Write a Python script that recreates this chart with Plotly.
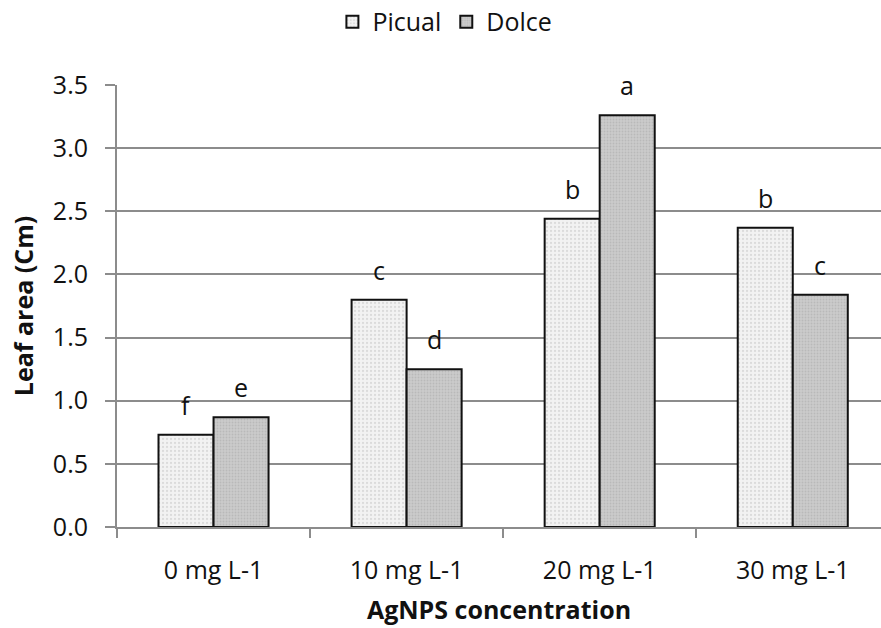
import plotly.graph_objects as go

categories = ["0 mg L-1", "10 mg L-1", "20 mg L-1", "30 mg L-1"]
picual = [0.73, 1.80, 2.44, 2.37]
dolce = [0.87, 1.25, 3.26, 1.84]
picual_letters = ["f", "c", "b", "b"]
dolce_letters = ["e", "d", "a", "c"]

FONT = "Open Sans"
GRID = "#8c8c8c"

fig = go.Figure()
fig.add_trace(go.Bar(
    name="Picual", x=categories, y=picual,
    marker=dict(color="#eeeeee", line=dict(color="#111111", width=2),
                pattern=dict(shape=".", fgcolor="#c4c4c4", bgcolor="#f2f2f2", size=4, solidity=0.25)),
))
fig.add_trace(go.Bar(
    name="Dolce", x=categories, y=dolce,
    marker=dict(color="#c6c6c6", line=dict(color="#111111", width=2),
                pattern=dict(shape=".", fgcolor="#a8a8a8", bgcolor="#cbcbcb", size=3, solidity=0.3)),
))

off = 27.5
for c, v, t in zip(categories, picual, picual_letters):
    fig.add_annotation(x=c, y=v, text=t, showarrow=False, xshift=-off, yshift=30,
                       font=dict(family=FONT, size=25, color="#111111"))
for c, v, t in zip(categories, dolce, dolce_letters):
    fig.add_annotation(x=c, y=v, text=t, showarrow=False, xshift=off, yshift=30,
                       font=dict(family=FONT, size=25, color="#111111"))

fig.update_layout(
    width=881, height=628,
    margin=dict(l=117, r=0, t=85, b=101, autoexpand=False),
    paper_bgcolor="white", plot_bgcolor="white",
    barmode="group", bargap=0.43, bargroupgap=0,
    font=dict(family=FONT, size=25, color="#111111"),
    legend=dict(orientation="h", xref="container", yref="container",
                x=0.505, xanchor="center", y=0.965, yanchor="middle",
                font=dict(family=FONT, size=25), itemwidth=30, tracegroupgap=0),
    showlegend=True,
)
fig.update_xaxes(
    type="category", range=[-0.5, 3.457],
    showline=True, linecolor=GRID, linewidth=2,
    ticks="outside", tickson="boundaries", ticklen=9, tickcolor=GRID, tickwidth=2,
    showgrid=False,
    tickfont=dict(family=FONT, size=25, color="#111111"),
    ticklabelstandoff=20,
    title=dict(text="<b>AgNPS concentration</b>", font=dict(family=FONT, size=25, color="#111111"), standoff=16),
)
fig.update_yaxes(
    range=[0, 3.5], dtick=0.5, tickformat=".1f",
    showgrid=True, gridcolor=GRID, gridwidth=2,
    showline=True, linecolor=GRID, linewidth=2,
    ticks="outside", ticklen=10, tickcolor=GRID, tickwidth=2,
    zeroline=False,
    tickfont=dict(family=FONT, size=25, color="#111111"),
    ticklabelstandoff=12,
    title=dict(text="<b>Leaf area (Cm)</b>", font=dict(family=FONT, size=25, color="#111111"), standoff=12),
)

fig.write_html("out.html", config={"displayModeBar": False},
               post_script="document.body.style.margin='0';document.body.style.overflow='hidden';")
